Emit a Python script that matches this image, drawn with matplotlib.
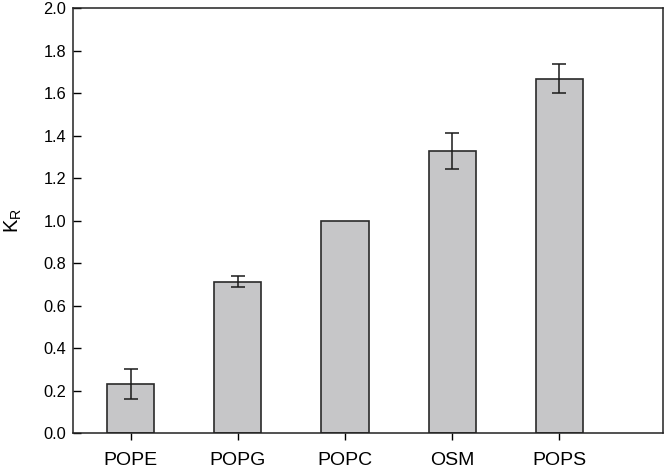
import matplotlib.pyplot as plt

plt.rcParams['font.family'] = ['Liberation Sans', 'DejaVu Sans']

# Data
lipids = ["POPE", "POPG", "POPC", "OSM", "POPS"]
kr = [0.23, 0.713, 1.0, 1.326, 1.667]
kr_err = [0.071, 0.027, 0.0, 0.085, 0.068]

fig = plt.figure(figsize=(6.64, 4.74), dpi=100)
ax = fig.add_axes([0.110, 0.0865, 0.8885, 0.8965])

x = list(range(len(lipids)))
ax.bar(x, kr, width=0.44, color="#c6c6c8", edgecolor="#2a2a2a", linewidth=1.2, zorder=2)
# POPC is the reference (no error bar)
err_x = [i for i, e in zip(x, kr_err) if e > 0]
err_y = [v for v, e in zip(kr, kr_err) if e > 0]
err_e = [e for e in kr_err if e > 0]
ax.errorbar(err_x, err_y, yerr=err_e, fmt="none", ecolor="#1a1a1a",
            elinewidth=1.1, capsize=4.7, capthick=1.1, zorder=3)

ax.set_xlim(-0.54, 4.97)
ax.set_ylim(0, 2.0)
ax.set_yticks([0.0, 0.2, 0.4, 0.6, 0.8, 1.0, 1.2, 1.4, 1.6, 1.8, 2.0])
ax.set_yticklabels([f"{v:.1f}" for v in ax.get_yticks()], fontsize=11.8)
ax.set_xticks(x)
ax.set_xticklabels(lipids, fontsize=14)
ax.tick_params(axis="y", direction="in", length=6, width=1, pad=5)
ax.tick_params(axis="x", direction="out", length=5, width=1, pad=9)
for s in ax.spines.values():
    s.set_linewidth(1.1)
    s.set_color("#222222")

ax.set_ylabel(r"K$_\mathregular{R}$", fontsize=14.5, labelpad=14)

fig.savefig("out.png", dpi=100)
